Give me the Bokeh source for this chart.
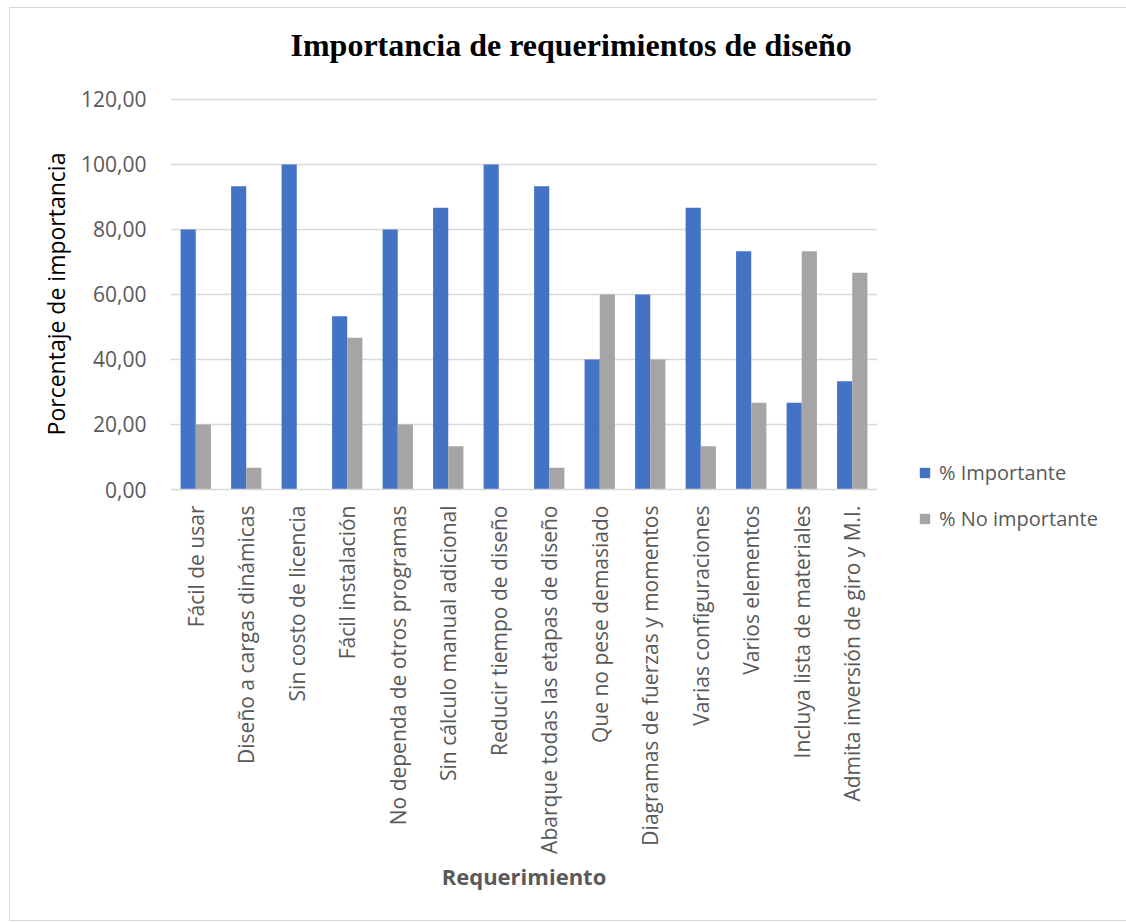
import math
from bokeh.plotting import figure
from bokeh.layouts import row
from bokeh.models import FactorRange, ColumnDataSource, Legend, LegendItem, CustomJSTickFormatter, FixedTicker, Title
from bokeh.transform import dodge
from bokeh.embed import file_html
from bokeh.resources import INLINE

categories = ["Fácil de usar", "Diseño a cargas dinámicas", "Sin costo de licencia", "Fácil instalación",
              "No dependa de otros programas", "Sin cálculo manual adicional", "Reducir tiempo de diseño",
              "Abarque todas las etapas de diseño", "Que no pese demasiado", "Diagramas de fuerzas y momentos",
              "Varias configuraciones", "Varios elementos", "Incluya lista de materiales",
              "Admita inversión de giro y M.I."]
importante = [80.00, 93.33, 100.00, 53.33, 80.00, 86.67, 100.00, 93.33, 40.00, 60.00, 86.67, 73.33, 26.67, 33.33]
no_importante = [20.00, 6.67, 0.00, 46.67, 20.00, 13.33, 0.00, 6.67, 60.00, 40.00, 13.33, 26.67, 73.33, 66.67]
y_ticks = [0, 20, 40, 60, 80, 100, 120]
series_names = ["% Importante", "% No importante"]
series_colors = ["#4472C4", "#A5A5A5"]

src = ColumnDataSource(dict(cat=categories, imp=importante, noimp=no_importante))

TXT = "#595959"
FONT = "Open Sans"

p = figure(x_range=FactorRange(*categories), y_range=(0, 120.3), width=867, height=912,
           output_backend="svg", toolbar_location=None,
           min_border_left=160, min_border_right=0, min_border_top=90, min_border_bottom=431)

r1 = p.vbar(x=dodge("cat", -0.15, range=p.x_range), top="imp", width=0.3, source=src,
            fill_color=series_colors[0], line_color=None)
r2 = p.vbar(x=dodge("cat", 0.15, range=p.x_range), top="noimp", width=0.3, source=src,
            fill_color=series_colors[1], line_color=None)

p.title = Title(text="Importancia de requerimientos de diseño", align="left",
                text_font="Liberation Serif", text_font_style="bold", text_font_size="32px",
                text_color="black", offset=120, standoff=10)
# blank spacer between title and frame
p.add_layout(Title(text=" ", text_font_size="8px", standoff=20), "above")

p.outline_line_color = None
p.xgrid.grid_line_color = None
p.ygrid.grid_line_color = "#d9d9d9"
p.ygrid.grid_line_width = 1.5

p.yaxis.ticker = FixedTicker(ticks=y_ticks)
p.yaxis.formatter = CustomJSTickFormatter(code="return tick.toFixed(2).replace('.', ',');")
p.yaxis.axis_line_color = None
p.yaxis.major_tick_line_color = None
p.yaxis.minor_tick_line_color = None
p.yaxis.major_label_text_font = FONT
p.yaxis.major_label_text_font_size = "21px"
p.yaxis.major_label_text_color = TXT
p.yaxis.major_label_standoff = 18
p.yaxis.axis_label = "Porcentaje de importancia"
p.yaxis.axis_label_text_font = FONT
p.yaxis.axis_label_text_font_style = "normal"
p.yaxis.axis_label_text_font_size = "23px"
p.yaxis.axis_label_text_color = "black"
p.yaxis.axis_label_standoff = 6

p.xaxis.axis_line_color = "#d9d9d9"
p.xaxis.axis_line_width = 1.5
p.xaxis.major_tick_line_color = None
p.xaxis.minor_tick_line_color = None
p.xaxis.major_label_orientation = math.pi / 2
p.xaxis.major_label_text_font = FONT
p.xaxis.major_label_text_font_size = "21px"
p.xaxis.major_label_text_color = TXT
p.xaxis.major_label_standoff = 10
p.xaxis.axis_label = "Requerimiento"
p.xaxis.axis_label_text_font = FONT
p.xaxis.axis_label_text_font_style = "bold"
p.xaxis.axis_label_text_font_size = "22px"
p.xaxis.axis_label_text_color = TXT
p.xaxis.axis_label_standoff = 4

# legend panel (separate figure so the legend can sit beside the plot frame)
leg = figure(width=249, height=912, x_range=(0, 1), y_range=(0, 1),
             x_axis_type=None, y_axis_type=None, output_backend="svg", toolbar_location=None,
             min_border=0)
leg.outline_line_color = None
leg.xgrid.grid_line_color = None
leg.ygrid.grid_line_color = None
lr1 = leg.vbar(x=[0.5], top=[0], bottom=[0], width=0.1, fill_color=series_colors[0], line_color=None)
lr2 = leg.vbar(x=[0.5], top=[0], bottom=[0], width=0.1, fill_color=series_colors[1], line_color=None)
legend = Legend(items=[LegendItem(label=series_names[0], renderers=[lr1]),
                       LegendItem(label=series_names[1], renderers=[lr2])],
                location=(41, -43), padding=0, margin=0, spacing=19,
                glyph_width=13, glyph_height=13, label_height=20, label_standoff=8,
                label_text_font=FONT, label_text_font_size="20px", label_text_color=TXT,
                border_line_color=None, background_fill_alpha=0)
leg.add_layout(legend, "left")

lay = row(p, leg, styles={"margin-left": "10px", "margin-top": "8px", "outline": "1px solid #d9d9d9"})

open("out.html", "w").write(file_html(lay, INLINE))
